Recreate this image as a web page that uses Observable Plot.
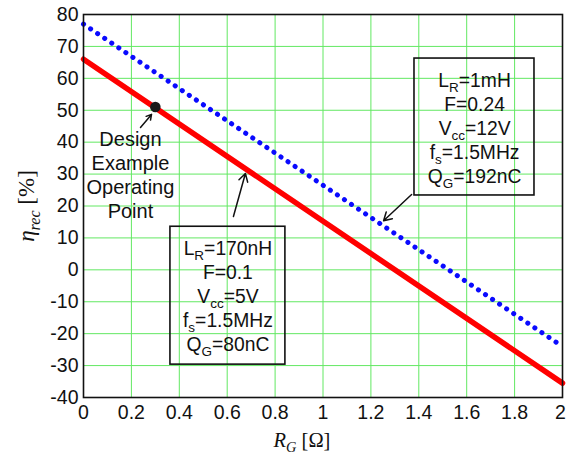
<!DOCTYPE html>
<html>
<head>
<meta charset="utf-8">
<script src="https://cdn.jsdelivr.net/npm/d3@7"></script>
<script src="https://cdn.jsdelivr.net/npm/@observablehq/plot@0.6"></script>
<style>
  html, body { margin: 0; padding: 0; background: #fff; }
  #chart svg { display: block; }
</style>
</head>
<body>
<div id="chart"></div>
<script>
// ---- data ----
const rG = [0, 2];                       // R_G [Ω]
const etaRed = [66, -35.5];              // η_rec [%], LR=170nH case (solid red)
const etaBlue = [77, -24];               // η_rec [%], LR=1mH case (dotted blue)
const designRG = [0.3];
const designEta = [51];
const xTicks = [0, 0.2, 0.4, 0.6, 0.8, 1, 1.2, 1.4, 1.6, 1.8, 2];
const xTickLabels = ["0", "0.2", "0.4", "0.6", "0.8", "1", "1.2", "1.4", "1.6", "1.8", "2"];
const yTicks = [-40, -30, -20, -10, 0, 10, 20, 30, 40, 50, 60, 70, 80];
const yTickLabels = ["-40", "-30", "-20", "-10", "0", "10", "20", "30", "40", "50", "60", "70", "80"];
const box1Lines = ["L_{R}=1mH", "F=0.24", "V_{cc}=12V", "f_{s}=1.5MHz", "Q_{G}=192nC"];
const box2Lines = ["L_{R}=170nH", "F=0.1", "V_{cc}=5V", "f_{s}=1.5MHz", "Q_{G}=80nC"];
const designLines = ["Design", "Example", "Operating", "Point"];
const xLabel = "*R*_i{G} [Ω]";
const yLabel = "*η*_i{rec} [%]";

const redData = rG.map((x, i) => ({x, y: etaRed[i]}));
const blueData = rG.map((x, i) => ({x, y: etaBlue[i]}));
const designData = designRG.map((x, i) => ({x, y: designEta[i]}));

const sans = "Arial, 'Liberation Sans', Helvetica, sans-serif";
const serif = "'Times New Roman', 'Liberation Serif', serif";
const gridColor = "#62e862";
const fmtX = (d) => xTickLabels[xTicks.indexOf(d)];

const svg = Plot.plot({
  width: 566,
  height: 457,
  marginLeft: 83,
  marginRight: 4,
  marginTop: 14,
  marginBottom: 60,
  style: {background: "#fff", fontFamily: sans, overflow: "hidden"},
  x: {domain: [0, 2]},
  y: {domain: [-40, 80]},
  marks: [
    Plot.gridX(xTicks, {stroke: gridColor, strokeOpacity: 1, strokeWidth: 1}),
    Plot.gridY(yTicks, {stroke: gridColor, strokeOpacity: 1, strokeWidth: 1}),
    Plot.axisX(xTicks.slice(0, -1), {tickSize: 0, tickPadding: 8, fontSize: 19.5, label: null, tickFormat: fmtX, fill: "#111"}),
    Plot.axisX(xTicks.slice(-1), {tickSize: 0, tickPadding: 8, fontSize: 19.5, label: null, tickFormat: fmtX, dx: -2, fill: "#111"}),
    Plot.axisY(yTicks, {tickSize: 0, tickPadding: 5, fontSize: 19.5, label: null,
      tickFormat: (d) => yTickLabels[yTicks.indexOf(d)], fill: "#111"}),
    // annotation boxes
    Plot.rect([0], {x1: 1.382, x2: 1.883, y1: 23.3, y2: 66.2, fill: "none", stroke: "#111", strokeWidth: 1.6}),
    Plot.rect([0], {x1: 0.363, x2: 0.843, y1: -29.7, y2: 13.5, fill: "none", stroke: "#111", strokeWidth: 1.6}),
    Plot.text([box1Lines.join("\n")], {x: 1.633, y: 44.6, text: (d) => d, fontSize: 19.3, lineHeight: 1.25,
      textAnchor: "middle", lineAnchor: "middle", fill: "#111"}),
    Plot.text([box2Lines.join("\n")], {x: 0.603, y: -7.9, text: (d) => d, fontSize: 19.3, lineHeight: 1.25,
      textAnchor: "middle", lineAnchor: "middle", fill: "#111"}),
    Plot.text([designLines.join("\n")], {x: 0.196, y: 29.8, text: (d) => d, fontSize: 20, lineHeight: 1.2,
      textAnchor: "middle", lineAnchor: "middle", fill: "#111"}),
    // arrows
    Plot.arrow([0], {x1: 1.370, y1: 23.6, x2: 1.253, y2: 15.4, stroke: "#111", strokeWidth: 1.5, headLength: 9}),
    Plot.arrow([0], {x1: 0.626, y1: 16.7, x2: 0.676, y2: 30.2, stroke: "#111", strokeWidth: 1.5, headLength: 9}),
    Plot.arrow([0], {x1: 0.238, y1: 44.6, x2: 0.284, y2: 48.7, stroke: "#111", strokeWidth: 1.5, headLength: 9}),
    // series
    Plot.line(blueData, {x: "x", y: "y", stroke: "#0a0aff", strokeWidth: 5,
      strokeDasharray: "0.1 8.4", strokeLinecap: "round"}),
    Plot.line(redData, {x: "x", y: "y", stroke: "#ff0000", strokeWidth: 5.5}),
    Plot.dot(designData, {x: "x", y: "y", r: 5.3, fill: "#1a1a1a", stroke: "none"}),
    Plot.frame({stroke: "#111", strokeWidth: 1.6}),
    // axis titles
    Plot.text([xLabel], {frameAnchor: "bottom", dy: 43, dx: -21, text: (d) => d, fontSize: 20.5,
      fontFamily: serif, lineAnchor: "middle", textAnchor: "middle", fill: "#111"}),
    Plot.text([yLabel], {frameAnchor: "left", dx: -57, rotate: -90, text: (d) => d, fontSize: 23,
      fontFamily: serif, lineAnchor: "middle", textAnchor: "middle", fill: "#111"})
  ]
});

// rich text: _{..} subscript, _i{..} italic subscript, *..* italic
const NS = "http://www.w3.org/2000/svg";
function richify(el) {
  const s = el.textContent;
  if (!/(_i?\{|\*)/.test(s)) return;
  el.textContent = "";
  const re = /(_i?\{[^}]*\}|\*[^*]+\*)/g;
  let last = 0, m;
  while ((m = re.exec(s))) {
    if (m.index > last) el.appendChild(document.createTextNode(s.slice(last, m.index)));
    const tok = m[0];
    const t = document.createElementNS(NS, "tspan");
    if (tok.startsWith("*")) {
      t.textContent = tok.slice(1, -1);
      t.setAttribute("font-style", "italic");
    } else {
      const italic = tok.startsWith("_i");
      t.textContent = tok.slice(italic ? 3 : 2, -1);
      t.setAttribute("font-size", "70%");
      t.setAttribute("baseline-shift", "-0.35em");
      if (italic) t.setAttribute("font-style", "italic");
    }
    el.appendChild(t);
    last = re.lastIndex;
  }
  if (last < s.length) el.appendChild(document.createTextNode(s.slice(last)));
}
svg.querySelectorAll("text, tspan").forEach((el) => {
  if ([...el.childNodes].every((n) => n.nodeType === 3)) richify(el);
});

document.getElementById("chart").appendChild(svg);
</script>
</body>
</html>
